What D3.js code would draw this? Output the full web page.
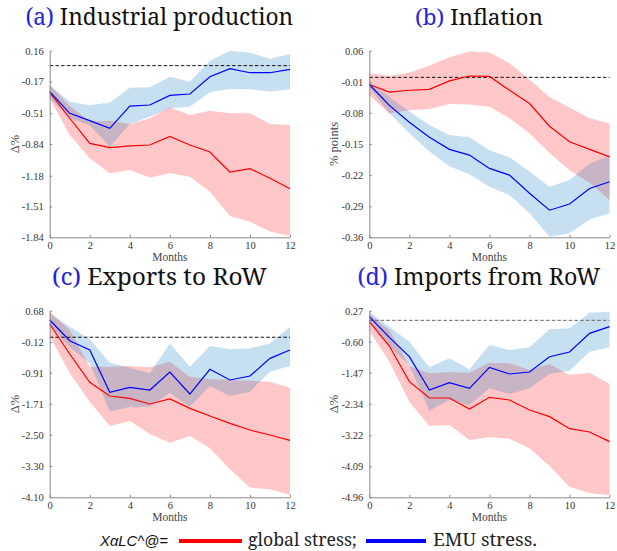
<!DOCTYPE html>
<html>
<head>
<meta charset="utf-8">
<script src="https://cdn.jsdelivr.net/npm/d3@7"></script>
<style>
  html, body { margin: 0; padding: 0; background: #fff; }
  svg { display: block; }
</style>
</head>
<body>
<svg id="chart" width="617" height="551"></svg>
<script>
// Impulse responses over a 12-month horizon: median paths and credible bands
// for a global-stress shock (red) and an EMU-stress shock (blue).
const months = [0, 1, 2, 3, 4, 5, 6, 7, 8, 9, 10, 11, 12];
const monthTicks = [0, 2, 4, 6, 8, 10, 12];

// (a) Industrial production, Δ%
const ipTicks = ["0.16", "-0.17", "-0.51", "-0.84", "-1.18", "-1.51", "-1.84"];
const ipGlobal   = [-0.286, -0.564, -0.833, -0.879, -0.861, -0.851, -0.758, -0.851, -0.926, -1.140, -1.104, -1.208, -1.319];
const ipGlobalHi = [-0.208, -0.430, -0.600, -0.590, -0.626, -0.565, -0.447, -0.529, -0.483, -0.511, -0.511, -0.626, -0.636];
const ipGlobalLo = [-0.351, -0.744, -0.994, -1.154, -1.119, -1.200, -1.154, -1.190, -1.351, -1.611, -1.672, -1.779, -1.826];
const ipEmu      = [-0.279, -0.511, -0.590, -0.672, -0.433, -0.422, -0.319, -0.304, -0.119, -0.033, -0.076, -0.076, -0.040];
const ipEmuHi    = [-0.208, -0.386, -0.426, -0.394, -0.236, -0.233, -0.119, -0.172, 0.053, 0.160, 0.139, 0.074, 0.124];
const ipEmuLo    = [-0.351, -0.560, -0.640, -0.869, -0.626, -0.547, -0.458, -0.440, -0.286, -0.251, -0.254, -0.276, -0.254];

// (b) Inflation, % points
const infTicks = ["0.06", "-0.01", "-0.08", "-0.15", "-0.22", "-0.29", "-0.36"];
const infGlobal   = [-0.016, -0.033, -0.029, -0.027, -0.008, 0.003, 0.002, -0.029, -0.059, -0.110, -0.145, -0.162, -0.179];
const infGlobalHi = [0.009, 0.003, 0.011, 0.026, 0.045, 0.058, 0.056, 0.032, -0.005, -0.044, -0.068, -0.092, -0.104];
const infGlobalLo = [-0.040, -0.081, -0.074, -0.071, -0.060, -0.061, -0.066, -0.092, -0.126, -0.170, -0.209, -0.237, -0.276];
const infEmu      = [-0.016, -0.063, -0.101, -0.135, -0.162, -0.175, -0.205, -0.220, -0.261, -0.299, -0.285, -0.250, -0.235];
const infEmuHi    = [-0.010, -0.044, -0.077, -0.107, -0.130, -0.135, -0.164, -0.180, -0.212, -0.246, -0.231, -0.194, -0.177];
const infEmuLo    = [-0.023, -0.081, -0.126, -0.167, -0.200, -0.218, -0.246, -0.265, -0.306, -0.359, -0.351, -0.320, -0.306];

// (c) Exports to RoW, Δ%
const exTicks = ["0.68", "-0.12", "-0.91", "-1.71", "-2.50", "-3.30", "-4.10"];
const exGlobal   = [0.339, -0.430, -1.155, -1.505, -1.565, -1.710, -1.582, -1.821, -2.017, -2.205, -2.376, -2.504, -2.640];
const exGlobalHi = [0.654, 0.185, -0.754, -0.754, -0.737, -0.771, -0.626, -1.010, -1.078, -1.095, -1.113, -1.138, -1.292];
const exGlobalLo = [0.031, -0.925, -1.650, -2.273, -2.145, -2.478, -2.700, -2.530, -2.845, -3.383, -3.852, -3.895, -4.040];
const exEmu      = [0.441, -0.088, -0.327, -1.411, -1.283, -1.352, -0.891, -1.454, -0.822, -1.095, -0.993, -0.540, -0.327];
const exEmuHi    = [0.612, 0.270, -0.054, -0.652, -0.780, -0.925, -0.157, -0.754, -0.225, -0.310, -0.285, -0.157, 0.270];
const exEmuLo    = [0.313, -0.259, -0.669, -1.906, -1.778, -1.778, -1.420, -1.778, -1.249, -1.505, -1.394, -0.882, -0.737];

// (d) Imports from RoW, Δ%
const imTicks = ["0.27", "-0.60", "-1.47", "-2.34", "-3.22", "-4.09", "-4.96"];
const imGlobal   = [-0.038, -0.720, -1.719, -2.177, -2.177, -2.485, -2.158, -2.233, -2.513, -2.700, -3.036, -3.129, -3.400];
const imGlobalHi = [0.177, -0.272, -1.280, -1.486, -1.448, -1.467, -1.187, -1.206, -1.392, -1.224, -1.532, -1.467, -1.785];
const imGlobalLo = [-0.290, -1.159, -2.280, -2.961, -2.933, -3.353, -3.279, -3.316, -3.587, -4.082, -4.661, -4.848, -4.894];
const imEmu      = [0.102, -0.477, -1.019, -1.953, -1.747, -1.906, -1.318, -1.504, -1.448, -1.019, -0.888, -0.365, -0.178];
const imEmuHi    = [0.242, -0.178, -0.599, -1.318, -1.065, -1.374, -0.692, -0.832, -0.757, -0.253, -0.225, 0.214, 0.242];
const imEmuLo    = [-0.038, -0.739, -1.252, -2.532, -2.233, -2.373, -1.906, -2.065, -1.906, -1.504, -1.411, -0.879, -0.757];

const panels = [
  { tag: "(a)", title: "Industrial production", ylabel: "Δ%", ticks: ipTicks,
    g: ipGlobal, gHi: ipGlobalHi, gLo: ipGlobalLo, e: ipEmu, eHi: ipEmuHi, eLo: ipEmuLo,
    left: 49.7, top: 50.7, titleW: 268, zeroColor: "#111" },
  { tag: "(b)", title: "Inflation", ylabel: "% points", ticks: infTicks,
    g: infGlobal, gHi: infGlobalHi, gLo: infGlobalLo, e: infEmu, eHi: infEmuHi, eLo: infEmuLo,
    left: 369.3, top: 50.7, titleW: 128, zeroColor: "#111" },
  { tag: "(c)", title: "Exports to RoW", ylabel: "Δ%", ticks: exTicks,
    g: exGlobal, gHi: exGlobalHi, gLo: exGlobalLo, e: exEmu, eHi: exEmuHi, eLo: exEmuLo,
    left: 49.7, top: 310.7, titleW: 215, zeroColor: "#111" },
  { tag: "(d)", title: "Imports from RoW", ylabel: "Δ%", ticks: imTicks,
    g: imGlobal, gHi: imGlobalHi, gLo: imGlobalLo, e: imEmu, eHi: imEmuHi, eLo: imEmuLo,
    left: 369.3, top: 310.7, titleW: 243, zeroColor: "#666" }
];

const plotW = 240.3, plotH = 186.6;
const RED = "#ff0000", BLUE = "#0000ff";
const SERIF = "'Noto Serif', serif";
const TIMES = "'Liberation Serif', Tinos, serif";
const svg = d3.select("#chart");

// scale a text's font size so that it spans the wanted width
function fitWidth(sel, base, target) {
  sel.attr("font-size", base);
  const w = sel.node().getComputedTextLength();
  if (w > 0) sel.attr("font-size", base * target / w);
}

panels.forEach(p => {
  const g = svg.append("g").attr("transform", `translate(${p.left},${p.top})`);
  const x = d3.scaleLinear().domain([0, 12]).range([0, plotW]);
  const tickVals = p.ticks.map(Number);
  const y = d3.scaleLinear()
    .domain([tickVals[tickVals.length - 1], tickVals[0]])
    .range([plotH, 0]);

  const band = (lo, hi) => d3.area()
    .x((d, i) => x(months[i]))
    .y0((d, i) => y(lo[i]))
    .y1((d, i) => y(hi[i]))(months);
  const line = vals => d3.line()
    .x((d, i) => x(months[i]))
    .y((d, i) => y(vals[i]))(months);

  // credible bands
  g.append("path").attr("d", band(p.gLo, p.gHi))
    .attr("fill", RED).attr("fill-opacity", 0.22);
  g.append("path").attr("d", band(p.eLo, p.eHi))
    .attr("fill", "rgb(0,114,189)").attr("fill-opacity", 0.22);

  // zero reference line
  g.append("line")
    .attr("x1", 0).attr("x2", plotW)
    .attr("y1", y(0)).attr("y2", y(0))
    .attr("stroke", p.zeroColor).attr("stroke-width", 1)
    .attr("stroke-dasharray", "3.5,2.2");

  // median responses
  g.append("path").attr("d", line(p.g)).attr("fill", "none")
    .attr("stroke", RED).attr("stroke-width", 1.2);
  g.append("path").attr("d", line(p.e)).attr("fill", "none")
    .attr("stroke", BLUE).attr("stroke-width", 1.2);

  // axes
  const xAxis = d3.axisBottom(x).tickValues(monthTicks).tickSizeInner(-2.5).tickSizeOuter(0).tickPadding(4);
  const yAxis = d3.axisLeft(y).tickValues(tickVals).tickFormat((d, i) => p.ticks[i])
    .tickSizeInner(-2.5).tickSizeOuter(0).tickPadding(6);

  const gx = g.append("g").attr("transform", `translate(0,${plotH})`).call(xAxis);
  const gy = g.append("g").call(yAxis);
  [gx, gy].forEach(a => {
    a.select(".domain").attr("stroke", "#8a8a8a").attr("stroke-width", 1);
    a.selectAll(".tick line").attr("stroke", "#8a8a8a");
    a.selectAll(".tick text")
      .attr("font-family", TIMES)
      .attr("font-size", 10.5).attr("fill", "#333");
  });

  // axis titles
  g.append("text")
    .attr("x", plotW / 2).attr("y", plotH + 23.5)
    .attr("text-anchor", "middle")
    .attr("font-family", TIMES).attr("font-size", 11.5)
    .attr("fill", "#444").text("Months");
  g.append("text")
    .attr("transform", `translate(-31,${plotH / 2}) rotate(-90)`)
    .attr("text-anchor", "middle")
    .attr("font-family", TIMES).attr("font-size", 12.5)
    .attr("fill", "#444").text(p.ylabel);

  // panel title
  const t = g.append("text")
    .attr("x", plotW / 2 - 10.5).attr("y", -25.7)
    .attr("text-anchor", "middle")
    .attr("font-family", SERIF)
    .attr("fill", "#111");
  t.append("tspan").attr("fill", "#2424d8").text(p.tag);
  t.append("tspan").text(" " + p.title);
  fitWidth(t, 22, p.titleW);
});

// legend
const leg = svg.append("g").attr("transform", "translate(0,541)");
const mark = leg.append("text").attr("x", 100).attr("y", 5)
  .attr("font-family", "'Liberation Sans', Arimo, sans-serif").attr("font-style", "italic")
  .attr("fill", "#111").text("XαLC^@=");
fitWidth(mark, 15, 68);
leg.append("line").attr("x1", 179).attr("x2", 242).attr("y1", 0).attr("y2", 0)
  .attr("stroke", RED).attr("stroke-width", 4);
const l1 = leg.append("text").attr("x", 248).attr("y", 5)
  .attr("font-family", SERIF).attr("fill", "#222").text("global stress;");
fitWidth(l1, 15, 109);
leg.append("line").attr("x1", 366).attr("x2", 426).attr("y1", 0).attr("y2", 0)
  .attr("stroke", BLUE).attr("stroke-width", 4);
const l2 = leg.append("text").attr("x", 433).attr("y", 5)
  .attr("font-family", SERIF).attr("fill", "#222").text("EMU stress.");
fitWidth(l2, 15, 104);
</script>
</body>
</html>
